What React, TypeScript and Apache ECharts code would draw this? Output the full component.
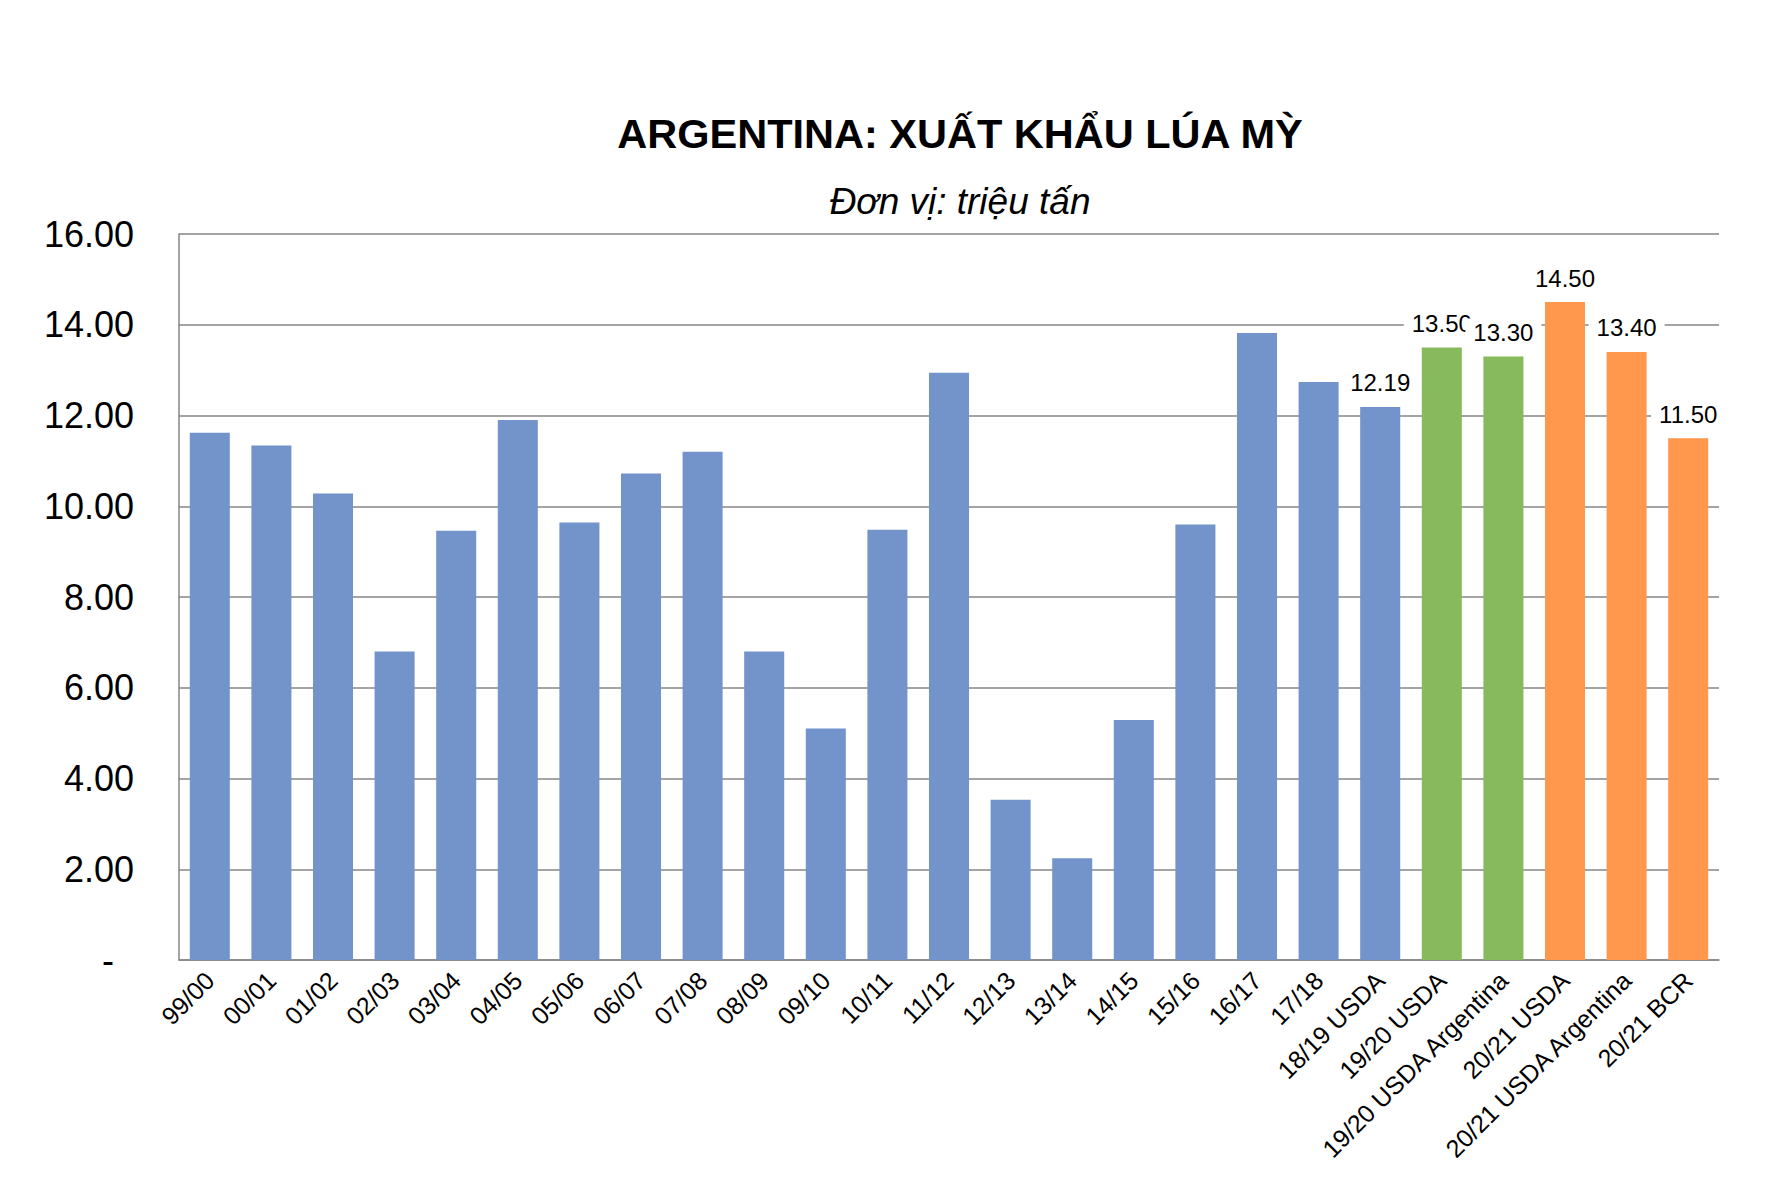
import React, { useEffect, useRef } from "react";
import * as echarts from "echarts";

const title = "ARGENTINA: XUẤT KHẨU LÚA MỲ";
const subtitle = "Đơn vị: triệu tấn";

const categories = [
  "99/00", "00/01", "01/02", "02/03", "03/04", "04/05", "05/06", "06/07",
  "07/08", "08/09", "09/10", "10/11", "11/12", "12/13", "13/14", "14/15",
  "15/16", "16/17", "17/18", "18/19 USDA", "19/20 USDA",
  "19/20 USDA Argentina", "20/21 USDA", "20/21 USDA Argentina", "20/21 BCR",
];

const values = [
  11.62, 11.34, 10.28, 6.8, 9.46, 11.9, 9.64, 10.72, 11.2, 6.8, 5.1, 9.48,
  12.94, 3.53, 2.24, 5.29, 9.6, 13.82, 12.74, 12.19, 13.5, 13.3, 14.5, 13.4, 11.5,
];

// group of each bar: history, 2019/20 estimates, 2020/21 estimates
const groups = [
  "h", "h", "h", "h", "h", "h", "h", "h", "h", "h", "h", "h", "h", "h", "h",
  "h", "h", "h", "h", "h", "a", "a", "b", "b", "b",
];

// which bars carry a value label
const labeled = [
  false, false, false, false, false, false, false, false, false, false, false,
  false, false, false, false, false, false, false, false, true, true, true,
  true, true, true,
];

const yTicks = { min: 0, max: 16, interval: 2 };

const groupColor: Record<string, string> = {
  h: "#7394CB",
  a: "#87BA5C",
  b: "#FF974D",
};

const FONT = "'Liberation Sans', Arial, sans-serif";

export default function App() {
  const ref = useRef<HTMLDivElement>(null);

  useEffect(() => {
    if (!ref.current) return;
    const chart = echarts.init(ref.current, null, { renderer: "svg" });
    const data = values.map((v, i) => ({
      value: v,
      itemStyle: { color: groupColor[groups[i]] },
      label: { show: labeled[i] },
    }));
    chart.setOption({
      animation: false,
      backgroundColor: "#ffffff",
      textStyle: { fontFamily: FONT },
      graphic: [
        {
          type: "text",
          x: 960,
          y: 133,
          style: {
            text: title,
            fontSize: 41.5,
            fontWeight: "bold",
            fontFamily: FONT,
            fill: "#000",
            align: "center",
            verticalAlign: "middle",
          },
        },
        {
          type: "text",
          x: 960,
          y: 201,
          style: {
            text: subtitle,
            fontSize: 37,
            fontStyle: "italic",
            fontFamily: FONT,
            fill: "#000",
            align: "center",
            verticalAlign: "middle",
          },
        },
      ],
      grid: { left: 179, right: 52, top: 234, bottom: 221, containLabel: false },
      xAxis: {
        type: "category",
        data: categories,
        axisTick: { show: false },
        axisLine: { show: true, lineStyle: { color: "#868686", width: 1.5 } },
        axisLabel: {
          interval: 0,
          rotate: 45,
          margin: 16,
          fontSize: 25,
          color: "#000",
          fontFamily: FONT,
        },
      },
      yAxis: {
        type: "value",
        min: yTicks.min,
        max: yTicks.max,
        interval: yTicks.interval,
        axisLine: { show: true, lineStyle: { color: "#868686", width: 1.5 } },
        axisTick: { show: false },
        splitLine: { show: true, lineStyle: { color: "#868686", width: 1.5 } },
        axisLabel: {
          margin: 45,
          fontSize: 36,
          color: "#000",
          fontFamily: FONT,
          formatter: (v: number) => (v === 0 ? "{z|-}" : v.toFixed(2)),
          rich: {
            z: { fontSize: 36, color: "#000", fontFamily: FONT, padding: [0, 20, 0, 0] },
          },
        },
      },
      series: [
        {
          type: "bar",
          data,
          barWidth: "65%",
          label: {
            position: "top",
            distance: 10,
            fontSize: 24,
            color: "#000",
            fontFamily: FONT,
            backgroundColor: "#ffffff",
            padding: [2, 8],
            formatter: (p: any) => Number(p.value).toFixed(2),
          },
        },
      ],
    });
    return () => chart.dispose();
  }, []);

  return (
    <div
      ref={ref}
      style={{ position: "fixed", left: 0, top: 0, width: 1771, height: 1181, background: "#fff" }}
    />
  );
}
